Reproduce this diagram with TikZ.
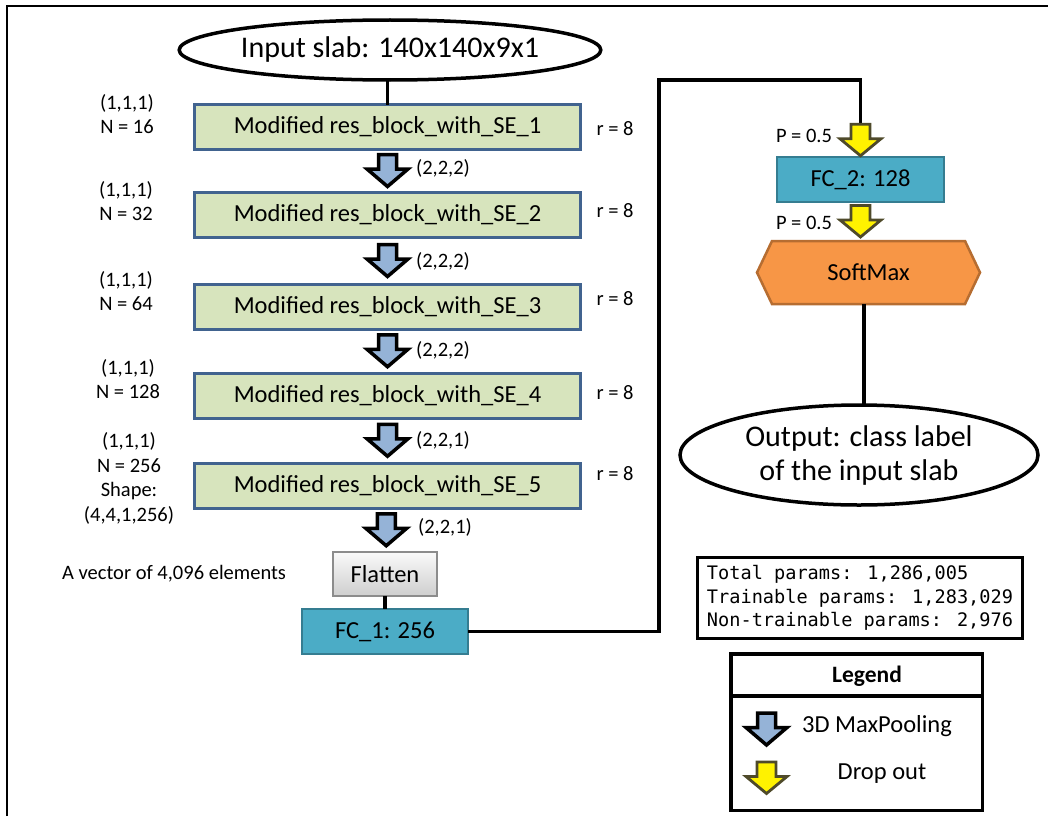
\documentclass[tikz,border=0pt]{standalone}
\usepackage{fontspec}
\setmainfont{Carlito}
\newfontfamily\monofont{DejaVu Sans Mono}
\usetikzlibrary{calc,backgrounds,shapes.geometric}

\definecolor{blockfill}{HTML}{D7E4BD}
\definecolor{blockline}{HTML}{41638F}
\definecolor{poolfill}{HTML}{95B3D7}
\definecolor{fcfill}{HTML}{4BACC6}
\definecolor{fcline}{HTML}{357D91}
\definecolor{smfill}{HTML}{F79646}
\definecolor{smline}{HTML}{B66D31}
\definecolor{dropline}{HTML}{4F4A2A}
\definecolor{flatline}{HTML}{8C8C8C}

\tikzset{
  pics/poolarrow/.style={code={
    \draw[line width=3.5, line join=miter, fill=poolfill]
      (-9,-16.5) -- (9,-16.5) -- (9,-2) -- (20.5,-2) -- (0,15.5)
      -- (-20.5,-2) -- (-9,-2) -- cycle;}},
  pics/droparrow/.style={code={
    \draw[line width=2.8, draw=dropline, line join=miter, fill=yellow]
      (-9.5,-16) -- (9.5,-16) -- (9.5,-1.5) -- (20.5,-1.5) -- (0,15.5)
      -- (-20.5,-1.5) -- (-9.5,-1.5) -- cycle;}},
}

\begin{document}
\begin{tikzpicture}[x=1pt,y=-1pt,
  every node/.style={inner sep=0pt, outer sep=0pt},
  lbl/.style={font=\fontsize{20.5}{24.5}\selectfont, align=center},
  bigtxt/.style={font=\fontsize{24.5}{29}\selectfont},
  resblock/.style={bigtxt, draw=blockline, fill=blockfill, line width=3,
    minimum width=386, minimum height=45},
  fcbox/.style={bigtxt, draw=fcline, fill=fcfill, line width=2.5,
    minimum height=45},
  terminal/.style={ellipse, draw, line width=3.5, fill=white,
    font=\fontsize{30}{34}\selectfont, align=center},
  conn/.style={line width=3.5},
]
\useasboundingbox (0,0) rectangle (1048,816);
\begin{scope}[on background layer]
  \fill[white] (0,0) rectangle (1048,816);
\end{scope}

% outer frame (runs past the page on the right and at the bottom)
\draw[line width=2.5] (7,816) -- (7,6) -- (1048,6);

% ---------- main column ----------
\node[terminal, minimum width=412, minimum height=60] (in) at (390,50)
  {Input slab: 140x140x9x1};

\node[resblock] (b1) at (387.5,127)   {Modified res\_block\_with\_SE\_1};
\node[resblock] (b2) at (387.5,215)   {Modified res\_block\_with\_SE\_2};
\node[resblock] (b3) at (387.5,307)   {Modified res\_block\_with\_SE\_3};
\node[resblock] (b4) at (387.5,395.5) {Modified res\_block\_with\_SE\_4};
\node[resblock] (b5) at (387.5,486)   {Modified res\_block\_with\_SE\_5};

\node[bigtxt, draw=flatline, line width=1.5, top color=gray!4,
  bottom color=gray!38, minimum width=104, minimum height=44]
  (flat) at (385,574) {Flatten};
\node[fcbox, minimum width=166] (fc1) at (385,631.5) {FC\_1: 256};

\draw[conn] (in.south -| b1.north) -- (b1.north);
\draw[conn] (flat.south) -- (fc1.north);

% 3D max-pooling arrows between the blocks
\pic at ($(b1.south)!0.5!(b2.north)$) {poolarrow};
\pic at ($(b2.south)!0.5!(b3.north)$) {poolarrow};
\pic at ($(b3.south)!0.5!(b4.north)$) {poolarrow};
\pic at ($(b4.south)!0.5!(b5.north)$) {poolarrow};
\pic at ($(b5.south)!0.5!(flat.north)$) {poolarrow};

% pooling sizes
\node[lbl] (p1) at (443,168) {(2,2,2)};
\node[lbl] (p2) at (443,261) {(2,2,2)};
\node[lbl] (p3) at (443,350) {(2,2,2)};
\node[lbl] (p4) at (443,440) {(2,2,1)};
\node[lbl] (p5) at (445,527) {(2,2,1)};

% kernel / filter annotations
\node[lbl] (k1) at (127,114) {(1,1,1)\\N = 16};
\node[lbl] (k2) at (126,201) {(1,1,1)\\N = 32};
\node[lbl] (k3) at (126,291) {(1,1,1)\\N = 64};
\node[lbl] (k4) at (128,379) {(1,1,1)\\N = 128};
\node[lbl] (k5) at (129,478.5) {(1,1,1)\\N = 256\\Shape:\\(4,4,1,256)};
\node[lbl] (vec) at (174,574) {A vector of 4,096 elements};

% squeeze-excitation ratios
\node[lbl] (r1) at (615,129) {r = 8};
\node[lbl] (r2) at (615,211) {r = 8};
\node[lbl] (r3) at (615,299) {r = 8};
\node[lbl] (r4) at (615,393) {r = 8};
\node[lbl] (r5) at (615,474) {r = 8};

% ---------- classifier head ----------
\node[fcbox, minimum width=167] (fc2) at (860.5,179.5) {FC\_2: 128};
\node[bigtxt, minimum width=223, minimum height=63] (sm) at (868.5,272.5) {SoftMax};
\begin{scope}[on background layer]
  \draw[line width=2.5, draw=smline, fill=smfill, line join=miter]
    (sm.west) -- ($(sm.north west)+(15,0)$) -- ($(sm.north east)+(-15,0)$)
    -- (sm.east) -- ($(sm.south east)+(-15,0)$) -- ($(sm.south west)+(15,0)$)
    -- cycle;
\end{scope}
\node[terminal, minimum width=358, minimum height=100] (out) at (859,455)
  {Output: class label\\of the input slab};

\coordinate (d1top) at ($(fc2.north)+(0,-33.5)$);
\coordinate (bend) at (659,80);
\draw[conn] (fc1.east) -| (bend) -| (d1top);
\pic at ($(d1top)!0.5!(fc2.north)$) {droparrow};
\pic at ($(fc2.south)!0.5!(sm.north -| fc2.south)$) {droparrow};
\draw[conn] (sm.south -| 864,0) -- (out.north -| 864,0);

\node[lbl] (dp1) at (804,136) {P = 0.5};
\node[lbl] (dp2) at (804,223) {P = 0.5};

% ---------- parameter summary ----------
\node[draw, line width=3.5, minimum width=325, minimum height=81, align=left,
  font=\monofont\fontsize{18.6}{23.5}\selectfont] (params) at (860,598)
  {Total params: 1,286,005\\Trainable params: 1,283,029\\Non-trainable params: 2,976};

% ---------- legend ----------
\node[draw, line width=3.5, minimum width=251.5, minimum height=156.5] (legend) at (856.5,732) {};
\draw[line width=3.5] (legend.west |- 0,696) -- (legend.east |- 0,696);
\node[font=\bfseries\fontsize{23.5}{26}\selectfont] (legtitle) at (867,676) {Legend};
\pic at (766.5,729.5) {poolarrow};
\pic at (766.5,778) {droparrow};
\node[bigtxt] (legpool) at (877,726) {3D MaxPooling};
\node[bigtxt] (legdrop) at (882,774) {Drop out};
\end{tikzpicture}
\end{document}
